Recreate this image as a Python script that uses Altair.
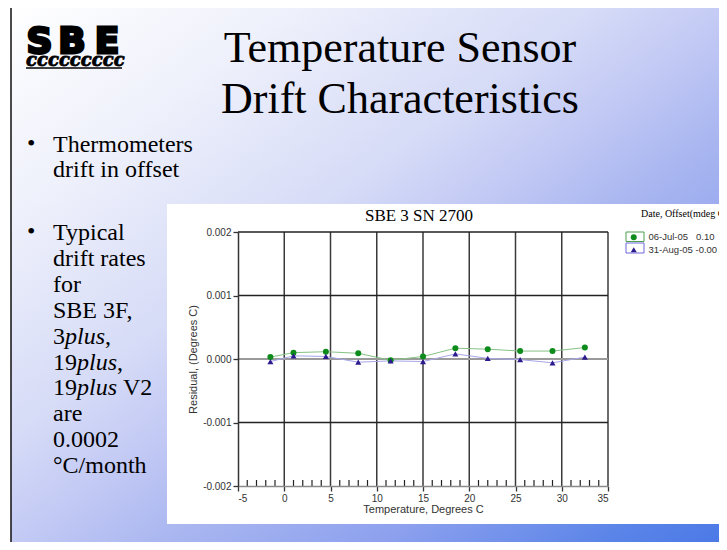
import altair as alt
import pandas as pd

# ---------------- data ----------------
temperature = [-1.5, 1.0, 4.5, 8.0, 11.5, 15.0, 18.5, 22.0, 25.5, 29.0, 32.5]
resid_jul = [0.00003, 0.00010, 0.000115, 0.00009, -0.00002, 0.00004, 0.00017, 0.000155, 0.000125, 0.000125, 0.00018]
resid_aug = [-0.00004, 0.00005, 0.00004, -0.00005, -0.00003, -0.00004, 0.00008, 0.00001, -0.00001, -0.00006, 0.00003]
series_names = ["06-Jul-05\u00a0\u00a0\u00a00.10", "31-Aug-05\u00a0-0.00"]
x_ticks = [-5, 0, 5, 10, 15, 20, 25, 30, 35]
y_ticks = [-0.002, -0.001, 0.0, 0.001, 0.002]
minor_x = [v for v in range(-4, 35) if v % 5 != 0]

slide_title = ["Temperature Sensor", "Drift Characteristics"]
bullet1 = ["Thermometers", "drift in offset"]
bullet2 = ["Typical", "drift rates", "for", "SBE 3F,", None, None, None, "are", "0.0002", "\u00b0C/month"]
chart_title = "SBE 3 SN 2700"
legend_title = "Date, Offset(mdeg C)"

# ---------------- layout ----------------
W, H = 370, 254
PL, PT = 230, 224
TOTAL_W, TOTAL_H = 711, 534


def px(x):
    return x - 8 - PL


def py(y):
    return y - 8 - PT


one = pd.DataFrame({"a": [0]})

grad = alt.Gradient(
    gradient="linear", x1=0, y1=0, x2=1, y2=1,
    stops=[
        alt.GradientStop(color="#ffffff", offset=0),
        alt.GradientStop(color="#eef0fb", offset=0.2),
        alt.GradientStop(color="#d6dbf7", offset=0.4),
        alt.GradientStop(color="#c2c9f4", offset=0.5),
        alt.GradientStop(color="#a9b6f0", offset=0.6),
        alt.GradientStop(color="#8ca0ee", offset=0.75),
        alt.GradientStop(color="#5a84e8", offset=0.9),
        alt.GradientStop(color="#4776e6", offset=1),
    ],
)

bg = alt.Chart(one).mark_rect(fill=grad, stroke="#111111", strokeWidth=1.5).encode(
    x=alt.value(px(11)), x2=alt.value(px(745)), y=alt.value(py(5)), y2=alt.value(py(548))
)
panel = alt.Chart(one).mark_rect(fill="white").encode(
    x=alt.value(px(167)), x2=alt.value(px(740)), y=alt.value(py(204)), y2=alt.value(py(524))
)


def label(text, x, y, size, font="Liberation Serif", align="left", style="normal",
          weight="normal", color="#000000", stroke_w=0):
    kw = {}
    if stroke_w:
        kw = {"stroke": color, "strokeWidth": stroke_w}
    return alt.Chart(pd.DataFrame({"t": [text]})).mark_text(
        align=align, baseline="alphabetic", font=font, fontSize=size,
        fontStyle=style, fontWeight=weight, color=color, **kw
    ).encode(x=alt.value(px(x)), y=alt.value(py(y)), text="t:N")


texts = []
# logo
texts.append(label("S", 39.5, 53, 36, font="DejaVu Sans", align="center", weight="bold", stroke_w=2.8))
texts.append(label("B", 72, 53, 36, font="DejaVu Sans", align="center", weight="bold", stroke_w=2.8))
texts.append(label("E", 107, 53, 36, font="DejaVu Sans", align="center", weight="bold", stroke_w=2.8))
texts.append(label("ccccccccc", 26, 66, 18, font="DejaVu Serif", style="italic", weight="bold", stroke_w=0.8))
logo_line = alt.Chart(one).mark_rule(color="#000000", strokeWidth=1.5).encode(
    x=alt.value(px(26)), x2=alt.value(px(122)), y=alt.value(py(68))
)
# slide title
texts.append(label(slide_title[0], 400, 62, 44, align="center"))
texts.append(label(slide_title[1], 400, 113, 44, align="center"))
# bullets
texts.append(label("\u2022", 27, 151, 24))
texts.append(label(bullet1[0], 53, 152, 24))
texts.append(label(bullet1[1], 53, 177, 24))
texts.append(label("\u2022", 27, 239, 24))
step = 25.9
for i, t in enumerate(bullet2):
    yb = 240 + step * i
    if t is not None:
        texts.append(label(t, 53, yb, 24))
# lines with italic "plus"
y4, y5, y6 = 240 + step * 4, 240 + step * 5, 240 + step * 6
texts += [
    label("3", 53, y4, 24), label("plus", 65, y4, 24, style="italic"), label(",", 105, y4, 24),
    label("19", 53, y5, 24), label("plus", 77, y5, 24, style="italic"), label(",", 117, y5, 24),
    label("19", 53, y6, 24), label("plus", 77, y6, 24, style="italic"), label("V2", 123, y6, 24),
]
# chart title and legend title
texts.append(label(chart_title, 419, 220.5, 17, align="center"))
texts.append(label(legend_title, 641, 216.5, 10))

legend_boxes = [
    alt.Chart(one).mark_rect(fill="white", stroke="#4c9f4c", strokeWidth=1).encode(
        x=alt.value(px(626)), x2=alt.value(px(644)), y=alt.value(py(232)), y2=alt.value(py(241.5))),
    alt.Chart(one).mark_rect(fill="white", stroke="#6f66d8", strokeWidth=1).encode(
        x=alt.value(px(626)), x2=alt.value(px(644)), y=alt.value(py(243)), y2=alt.value(py(253))),
]

# ---------------- chart ----------------
xs = alt.Scale(domain=[-5, 35], nice=False, zero=False)
ys = alt.Scale(domain=[-0.002, 0.002], nice=False, zero=False)

xaxis = alt.Axis(
    values=x_ticks, grid=False, zindex=1, labelExpr="datum.value + ''",
    labelFont="Liberation Sans", labelFontSize=10, labelColor="#333333", labelPadding=2,
    tickColor="#333333", tickSize=5, tickWidth=1.3, domainColor="#8a8a8a", domainWidth=1.5,
    title="Temperature, Degrees C", titleFont="Liberation Sans", titleFontSize=11,
    titleFontWeight="normal", titleColor="#333333", titlePadding=0,
)
yaxis = alt.Axis(
    values=y_ticks, grid=False, zindex=1,
    labelExpr="datum.value < 0 ? '-' + format(-datum.value, '.3f') : format(datum.value, '.3f')",
    labelFont="Liberation Sans", labelFontSize=10, labelColor="#333333", labelPadding=2,
    tickColor="#333333", tickSize=5, tickWidth=1.3, domainColor="#333333", domainWidth=1.5,
    title="Residual, (Degrees C)", titleFont="Liberation Sans", titleFontSize=11,
    titleFontWeight="normal", titleColor="#333333", titlePadding=4,
)

X = alt.X("temp:Q", scale=xs, axis=xaxis)
Y = alt.Y("res:Q", scale=ys, axis=yaxis)

vgrid = alt.Chart(pd.DataFrame({"temp": x_ticks[1:]})).mark_rule(color="#3a3a3a", strokeWidth=1.5).encode(x=X)
hgrid_dark = alt.Chart(pd.DataFrame({"res": [0.002, 0.001, -0.001]})).mark_rule(color="#222222", strokeWidth=1.3).encode(y=Y)
hgrid_zero = alt.Chart(pd.DataFrame({"res": [0.0]})).mark_rule(color="#9a9a9a", strokeWidth=2).encode(y=Y)
minor = alt.Chart(pd.DataFrame({"temp": minor_x})).mark_rule(color="#222222", strokeWidth=1.2).encode(
    x=X, y=alt.value(H - 6), y2=alt.value(H)
)

df = pd.DataFrame({
    "temp": temperature * 2,
    "res": resid_jul + resid_aug,
    "series": [series_names[0]] * len(temperature) + [series_names[1]] * len(temperature),
})

leg = alt.Legend(
    title=None, orient="none", legendX=px(629), legendY=py(232.5),
    labelFont="Liberation Sans", labelFontSize=9.5, labelColor="#333333",
    symbolSize=36, symbolStrokeWidth=0, labelOffset=10, rowPadding=1.5, padding=0,
)

line_colors = ["#86c286", "#a7a6e8"]
line_layers = [
    alt.Chart(df).transform_filter(alt.datum.series == name).mark_line(strokeWidth=1, color=col).encode(x=X, y=Y)
    for name, col in zip(series_names, line_colors)
]
points = alt.Chart(df).mark_point(filled=True, size=36, strokeWidth=0, opacity=1).encode(
    x=X, y=Y,
    fill=alt.Fill("series:N", scale=alt.Scale(domain=series_names, range=["#0d8c1c", "#2b1b8c"]), legend=leg),
    shape=alt.Shape("series:N", scale=alt.Scale(domain=series_names, range=["circle", "triangle-up"]), legend=leg),
)

chart = alt.layer(
    bg, panel, logo_line, *texts, *legend_boxes,
    vgrid, hgrid_dark, hgrid_zero, minor, *line_layers, points,
).properties(
    width=W, height=H,
    padding={"left": PL, "top": PT, "right": TOTAL_W - PL - W, "bottom": TOTAL_H - PT - H},
    autosize=alt.AutoSizeParams(type="none"),
).configure(background="white").configure_view(strokeWidth=0)

chart.save("out.html", embed_options={"renderer": "svg", "actions": False})
